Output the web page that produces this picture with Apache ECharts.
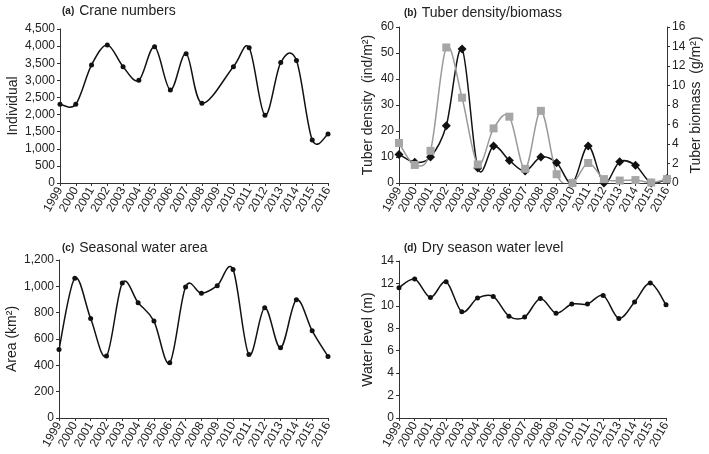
<!DOCTYPE html>
<html><head><meta charset="utf-8">
<script src="https://cdn.jsdelivr.net/npm/echarts@6/dist/echarts.min.js"></script>
<style>html,body{margin:0;padding:0;background:#fff}#c{width:709px;height:454px}</style>
</head><body><div id="c"></div>
<script>
const years = ['1999','2000','2001','2002','2003','2004','2005','2006','2007','2008','2009','2010','2011','2012','2013','2014','2015','2016'];
const craneNumbers = [2300,2300,3450,4030,3400,3000,3980,2720,3780,2330,null,3400,3950,1980,3520,3580,1260,1430];
const tuberDensity = [11,8,10,22,51.5,5.8,14.2,8.7,4.6,10,7.8,0,14.2,0,8.2,6.8,0,1.7];
const tuberBiomass = [4.1,1.85,3.3,13.9,8.75,1.9,5.6,6.8,1.45,7.4,0.9,0,2.05,0.4,0.25,0.3,0.05,0.4];
const waterArea = [520,1061,756,470,1025,876,736,419,995,947,1005,1127,482,838,533,898,662,467];
const waterLevel = [11.62,12.39,10.75,12.15,9.47,10.69,10.84,9.08,9.0,10.66,9.35,10.16,10.16,10.93,8.88,10.34,12.03,10.1];

const FONT = 'Liberation Sans, Arial, sans-serif';
const AX = '#333';
function xAxis(gi){
  return {type:'category', gridIndex:gi, data:years, boundaryGap:false,
    axisLine:{lineStyle:{color:AX,width:1}},
    axisTick:{show:true, alignWithLabel:true, length:3, lineStyle:{color:AX}},
    axisLabel:{interval:0, rotate:60, color:'#222', fontSize:12, fontFamily:FONT, margin:5},
    splitLine:{show:false}};
}
function yAxis(gi, max, interval, name, gap, pos, fmt){
  return {type:'value', gridIndex:gi, min:0, max:max, interval:interval, position:pos||'left',
    name:name, nameLocation:'middle', nameGap:gap,
    nameTextStyle:{color:'#222', fontSize:14, fontFamily:FONT},
    axisLine:{show:true, lineStyle:{color:AX,width:1}},
    axisTick:{show:true, length:3, lineStyle:{color:AX}},
    axisLabel:{color:'#222', fontSize:12, fontFamily:FONT, margin:5,
      formatter: fmt ? (v)=>v.toLocaleString('en-US') : undefined},
    splitLine:{show:false}};
}
function title(text, letter, left, top){
  return {text:'{b|(' + letter + ')} {n|' + text + '}', left:left, top:top, padding:0,
    textStyle:{fontWeight:'normal', rich:{b:{fontSize:10, fontWeight:'bold', color:'#222', fontFamily:FONT},
                     n:{fontSize:14, fontWeight:'normal', color:'#222', fontFamily:FONT}}}};
}
// Smooth curve drawn segment by segment (Catmull-Rom) through the axis scales
function curve(xi, yi, arr, color, width){
  const idxs = [];
  arr.forEach((v,i)=>{ if (v != null) idxs.push(i); });
  return {type:'custom', xAxisIndex:xi, yAxisIndex:yi, clip:true, silent:true, animation:false,
    data: arr.map((v,i)=>[i, v == null ? 0 : v]),
    renderItem: function(params, api){
      const i = params.dataIndex;
      const pos = idxs.indexOf(i);
      if (pos < 0 || pos >= idxs.length - 1) return null;
      const P = k => { const j = idxs[Math.max(0, Math.min(idxs.length - 1, k))]; return api.coord([j, arr[j]]); };
      const p0 = P(pos-1), p1 = P(pos), p2 = P(pos+1), p3 = P(pos+2);
      const t = 1/6;
      return {type:'bezierCurve',
        shape:{x1:p1[0], y1:p1[1], x2:p2[0], y2:p2[1],
          cpx1:p1[0] + (p2[0]-p0[0])*t, cpy1:p1[1] + (p2[1]-p0[1])*t,
          cpx2:p2[0] - (p3[0]-p1[0])*t, cpy2:p2[1] - (p3[1]-p1[1])*t},
        style:{stroke:color, lineWidth:width, fill:null}};
    }};
}
function marks(xi, yi, arr, symbol, size, color){
  return {type:'scatter', xAxisIndex:xi, yAxisIndex:yi, data:arr, symbol:symbol, symbolSize:size,
    itemStyle:{color:color, opacity:1}, silent:true, animation:false};
}
const chart = echarts.init(document.getElementById('c'), null, {renderer:'canvas'});
chart.setOption({
  animation:false,
  backgroundColor:'#fff',
  title:[
    title('Crane numbers','a',62,2),
    title('Tuber density/biomass','b',404,4),
    title('Seasonal water area','c',62,239),
    title('Dry season water level','d',404,239)
  ],
  grid:[
    {left:60, right:381, top:29, bottom:271},
    {left:399, right:42, top:27, bottom:271},
    {left:59, right:381, top:260, bottom:36},
    {left:399, right:43, top:261, bottom:36}
  ],
  xAxis:[xAxis(0), xAxis(1), xAxis(2), xAxis(3)],
  yAxis:[
    yAxis(0, 4500, 500, 'Individual', 40, 'left', true),
    yAxis(1, 60, 10, 'Tuber density  (ind/m²)', 24, 'left'),
    yAxis(1, 16, 2, 'Tuber biomass  (g/m²)', 20, 'right'),
    yAxis(2, 1200, 200, 'Area (km²)', 40, 'left', true),
    yAxis(3, 14, 2, 'Water level (m)', 24, 'left')
  ],
  series:[
    curve(0,0,craneNumbers,'#111',1.5),
    marks(0,0,craneNumbers,'circle',5,'#111'),
    curve(1,1,tuberDensity,'#111',1.5),
    curve(1,2,tuberBiomass,'#9a9a9a',1.5),
    marks(1,1,tuberDensity,'diamond',9,'#111'),
    marks(1,2,tuberBiomass,'rect',8,'#a6a6a6'),
    curve(2,3,waterArea,'#111',1.5),
    marks(2,3,waterArea,'circle',5,'#111'),
    curve(3,4,waterLevel,'#111',1.5),
    marks(3,4,waterLevel,'circle',5,'#111')
  ]
});
</script></body></html>
